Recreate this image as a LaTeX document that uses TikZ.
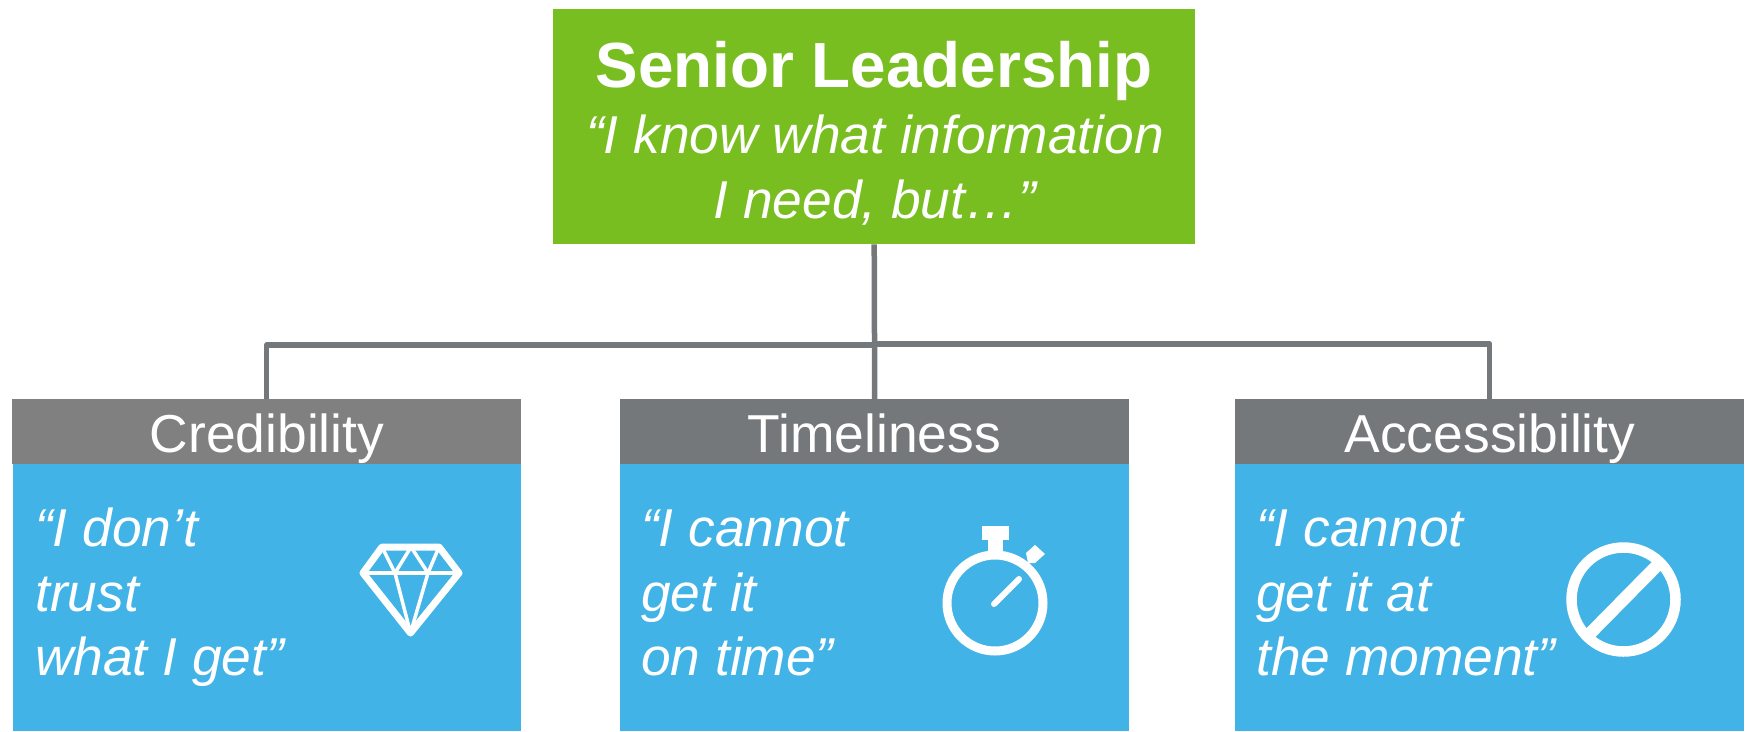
\documentclass[tikz,border=0pt]{standalone}
\usepackage{fontspec}
\setmainfont{Liberation Sans}
\definecolor{lead}{HTML}{78BE20}
\definecolor{skyb}{HTML}{41B3E6}
\definecolor{headA}{HTML}{808080}
\definecolor{headB}{HTML}{75787B}
\definecolor{linec}{HTML}{75787B}
\tikzset{
 x=1pt,y=-1pt,
 conn/.style={draw=linec,line width=5.5pt,line join=round},
 topbox/.style={fill=lead,inner sep=0pt,anchor=north west},
 headbox/.style={inner sep=0pt,anchor=north west},
 bodybox/.style={fill=skyb,inner sep=0pt,anchor=north west},
 quote/.style={anchor=base west,inner sep=0pt,text=white,align=left,font=\fontsize{53.3}{64}\selectfont\itshape},
 headtext/.style={anchor=base,inner sep=0pt,text=white,font=\fontsize{53.4}{53}\selectfont},
 subtext/.style={anchor=base,inner sep=0pt,text=white,font=\fontsize{53.3}{53}\selectfont\itshape},
 icon/.style={draw=white,fill=none,line join=round,line cap=round},
}
\begin{document}
\begin{tikzpicture}
\useasboundingbox (0,0) rectangle (1747,731);
% boxes
\node[topbox,minimum width=642pt,minimum height=235pt] (top) at (553,9) {};
\node[bodybox,minimum width=508pt,minimum height=267pt] (bodyA) at (13,464) {};
\node[bodybox,minimum width=509pt,minimum height=267pt] (bodyB) at (620,464) {};
\node[bodybox,minimum width=509pt,minimum height=267pt] (bodyC) at (1235,464) {};
\node[headbox,fill=headA,minimum width=509pt,minimum height=65pt] (headA) at (12,399) {};
\node[headbox,fill=headB,minimum width=509pt,minimum height=65pt] (headB) at (620,399) {};
\node[headbox,fill=headB,minimum width=509pt,minimum height=65pt] (headC) at (1235,399) {};
% connectors
\coordinate (junL) at (top.south |- 0,345);
\coordinate (junR) at (top.south |- 0,344);
\draw[conn] (top.south) -- (headB.north);
\draw[conn] (junL) -| (headA.north);
\draw[conn] (junR) -| (headC.north);
% titles
\node[anchor=base,inner sep=0pt,text=white,font=\fontsize{63.8}{64}\selectfont\bfseries] (title) at (874,87) {Senior Leadership};
\node[subtext] (sub1) at (875,153) {“I know what information};
\node[subtext] (sub2) at (875,218) {I need, but…”};
\node[headtext] (tA) at (267,452) {Credibility};
\node[headtext] (tB) at (874.5,452) {Timeliness};
\node[headtext] (tC) at (1490,452) {Accessibility};
% quotes
\node[quote] (qA1) at (35,546) {“I don’t};
\node[quote] (qA2) at (35,611) {trust};
\node[quote] (qA3) at (35,675) {what I get”};
\node[quote] (qB1) at (641,546) {“I cannot};
\node[quote] (qB2) at (641,611) {get it};
\node[quote] (qB3) at (641,675) {on time”};
\node[quote] (qC1) at (1256,546) {“I cannot};
\node[quote] (qC2) at (1256,611) {get it at};
\node[quote] (qC3) at (1256,675) {the moment”};
% diamond
\draw[icon,line width=7pt] (382,547) -- (439,547) -- (459,573) -- (410.5,633) -- (363,573) -- cycle;
\draw[icon,line width=3.5pt] (363,573) -- (459,573);
\draw[icon,line width=3.5pt] (382,547) -- (395,573) -- (411,547) -- (428,573) -- (439,547);
\draw[icon,line width=3.5pt] (395,573) -- (410.5,633) -- (428,573);
% stopwatch
\draw[icon,line width=9pt] (995,603) circle (48);
\fill[white] (981.7,526) rectangle (1008.5,540);
\fill[white] (987.7,540) rectangle (1002.7,556);
\draw[icon,line width=6pt] (994,604) -- (1019,579);
\fill[white] (1035,545) -- (1045,554) -- (1035,563) -- (1028,563) -- (1026,553) -- cycle;
% no sign
\draw[icon,line width=10.5pt] (1623.5,599.5) circle (52);
\draw[icon,line width=12.5pt,line cap=butt] (1660,562.5) -- (1587,636.5);
\end{tikzpicture}
\end{document}
